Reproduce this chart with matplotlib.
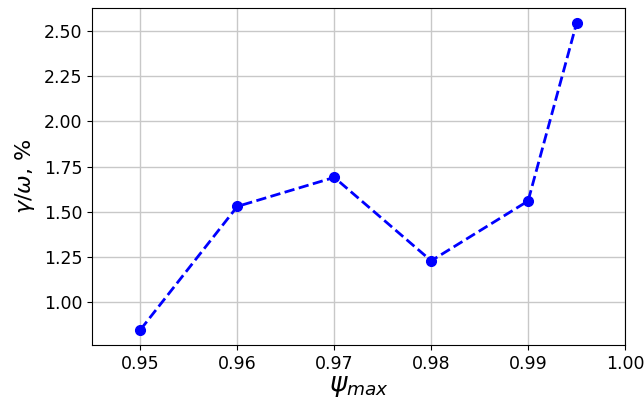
import matplotlib
matplotlib.use("Agg")
import matplotlib.pyplot as plt

psi_max = [0.95, 0.96, 0.97, 0.98, 0.99, 0.995]
gamma_ratio = [0.85, 1.53, 1.69, 1.23, 1.56, 2.54]
x_ticks = [0.95, 0.96, 0.97, 0.98, 0.99, 1.00]
y_ticks = [1.00, 1.25, 1.50, 1.75, 2.00, 2.25, 2.50]

fig = plt.figure(figsize=(6.44, 3.99), dpi=100)
ax = fig.add_axes([92 / 644, 1 - 345 / 399, 533 / 644, 337 / 399])

ax.plot(psi_max, gamma_ratio, "o--", color="blue", linewidth=2, markersize=7)

ax.set_xlim(0.945, 1.0)
ax.set_xticks(x_ticks)
ax.set_xticklabels([f"{v:.2f}" for v in x_ticks])
ax.set_yticks(y_ticks)
ax.set_yticklabels([f"{v:.2f}" for v in y_ticks])
ax.tick_params(labelsize=12.5)
ax.grid(True, color="#c8c8c8", linewidth=1)
ax.set_axisbelow(True)

ax.set_xlabel(r"$\psi_{max}$", fontsize=19, labelpad=0)
ax.set_ylabel(r"$\gamma/\omega$, %", fontsize=16, labelpad=5)

# caption of the source document, mostly cut off at the bottom edge
fig.text(75 / 644, 1 - 400 / 399, "Figure 2:", fontsize=21, color="#999999",
         family="Liberation Serif", va="top")

fig.savefig("out.png", dpi=100)
